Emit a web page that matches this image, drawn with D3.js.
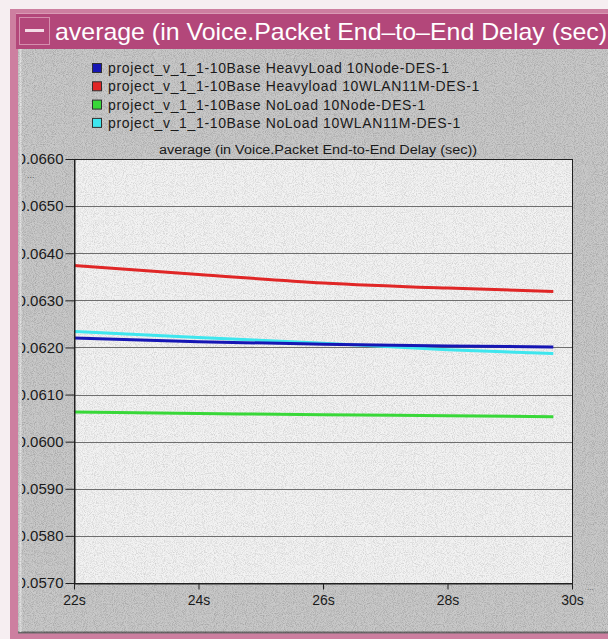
<!DOCTYPE html>
<html>
<head>
<meta charset="utf-8">
<script src="https://cdn.jsdelivr.net/npm/d3@7"></script>
<style>
  html, body { margin: 0; padding: 0; background: #f6eef1; }
  svg { display: block; }
  text { font-family: "Liberation Sans", Arial, sans-serif; }
</style>
</head>
<body>
<svg id="chart" width="608" height="639"></svg>
<script>
// ---- data ----
const windowTitle = "average (in Voice.Packet End\u2013to\u2013End Delay (sec)";
const plotTitle = "average (in Voice.Packet End-to-End Delay (sec))";
const seriesNames = [
  "project_v_1_1-10Base HeavyLoad 10Node-DES-1",
  "project_v_1_1-10Base Heavyload 10WLAN11M-DES-1",
  "project_v_1_1-10Base NoLoad 10Node-DES-1",
  "project_v_1_1-10Base NoLoad 10WLAN11M-DES-1"
];
const seriesColors = ["#1616b4", "#e02626", "#38d838", "#3ee6ee"];
const times = [22, 24, 26, 28, 29.7];
const heavyLoad10Node   = [0.06220, 0.06212, 0.06207, 0.06203, 0.06201];
const heavyLoadWlan     = [0.06374, 0.06355, 0.06337, 0.06326, 0.06319];
const noLoad10Node      = [0.06063, 0.06060, 0.06057, 0.06055, 0.06053];
const noLoadWlan        = [0.06234, 0.06221, 0.06209, 0.06195, 0.06187];
const yTickValues = [0.0570, 0.0580, 0.0590, 0.0600, 0.0610, 0.0620, 0.0630, 0.0640, 0.0650, 0.0660];
const xTickValues = [22, 24, 26, 28, 30];
const xTickLabels = ["22s", "24s", "26s", "28s", "30s"];

// cyan and blue overlap; blue is drawn last so it sits on top
const seriesValues = [heavyLoad10Node, heavyLoadWlan, noLoad10Node, noLoadWlan];
const drawOrder = [1, 2, 3, 0];

const svg = d3.select("#chart");
const W = 608, H = 639;

// ---- grain filter for the window surfaces ----
const defs = svg.append("defs");
const grain = defs.append("filter").attr("id", "grain")
  .attr("x", 0).attr("y", 0).attr("width", "100%").attr("height", "100%");
grain.append("feTurbulence").attr("type", "fractalNoise")
  .attr("baseFrequency", 1.1).attr("numOctaves", 1).attr("seed", 4).attr("result", "n");
grain.append("feColorMatrix").attr("in", "n").attr("type", "matrix")
  .attr("values", "0 0 0 0 0  0 0 0 0 0  0 0 0 0 0  -1.6 0 0 0 0.95");
defs.append("clipPath").attr("id", "bodyClip")
  .append("rect").attr("x", 22).attr("y", 50).attr("width", W - 22).attr("height", 580);

// ---- window frame ----
svg.append("rect").attr("x", 10).attr("y", 9).attr("width", W - 10).attr("height", H - 9)
  .attr("fill", "#cd7fa0");
svg.append("rect").attr("x", 16).attr("y", 13).attr("width", W - 16).attr("height", 36)
  .attr("fill", "#b3477a");
svg.append("line").attr("x1", 16).attr("x2", W).attr("y1", 13.5).attr("y2", 13.5)
  .attr("stroke", "#d99ab4");
// minimise box
svg.append("rect").attr("x", 19.5).attr("y", 17.5).attr("width", 30).attr("height", 27)
  .attr("fill", "#b3477a").attr("stroke", "#d58fae");
svg.append("rect").attr("x", 25).attr("y", 29).attr("width", 19).attr("height", 3)
  .attr("fill", "#f3dbe6");
svg.append("text").attr("x", 55).attr("y", 40)
  .attr("fill", "#ffffff").attr("font-size", 24)
  .attr("textLength", 552).attr("lengthAdjust", "spacingAndGlyphs")
  .text(windowTitle);

// window body
svg.append("rect").attr("x", 18).attr("y", 49).attr("width", W - 18).attr("height", 584)
  .attr("fill", "#c9c9c9");
svg.append("line").attr("x1", 18).attr("x2", W).attr("y1", 632.5).attr("y2", 632.5)
  .attr("stroke", "#6a6a6a").attr("stroke-width", 2);
svg.append("line").attr("x1", 20.5).attr("x2", 20.5).attr("y1", 49).attr("y2", 632)
  .attr("stroke", "#e2e2e2").attr("stroke-width", 2);
svg.append("rect").attr("x", 18).attr("y", 49).attr("width", W - 18).attr("height", 584)
  .attr("fill", "#808080").attr("filter", "url(#grain)").attr("opacity", 0.28);

// ---- scales ----
const x = d3.scaleLinear().domain([22, 30]).range([74, 572]);
const y = d3.scaleLinear().domain([0.0570, 0.0660]).range([583, 159]);

// plot area
svg.append("rect").attr("x", x(22)).attr("y", y(0.066))
  .attr("width", x(30) - x(22)).attr("height", y(0.057) - y(0.066))
  .attr("fill", "#f3f3f3");
svg.append("rect").attr("x", x(22)).attr("y", y(0.066))
  .attr("width", x(30) - x(22)).attr("height", y(0.057) - y(0.066))
  .attr("fill", "#9a9a9a").attr("filter", "url(#grain)").attr("opacity", 0.22);

// horizontal grid
svg.append("g").selectAll("line").data(yTickValues).join("line")
  .attr("x1", x(22)).attr("x2", x(30))
  .attr("y1", d => Math.round(y(d)) + 0.5).attr("y2", d => Math.round(y(d)) + 0.5)
  .attr("stroke", "#6e6e6e").attr("stroke-width", 1);

// series lines
const line = d3.line()
  .x((d, i) => x(times[i]))
  .y(d => y(d))
  .curve(d3.curveMonotoneX);
svg.append("g").selectAll("path").data(drawOrder).join("path")
  .attr("d", k => line(seriesValues[k]))
  .attr("fill", "none")
  .attr("stroke", k => seriesColors[k])
  .attr("stroke-width", 3)
  .attr("stroke-linecap", "butt");

// plot frame
svg.append("rect").attr("x", x(22) + 0.5).attr("y", y(0.066) + 0.5)
  .attr("width", x(30) - x(22)).attr("height", y(0.057) - y(0.066))
  .attr("fill", "none").attr("stroke", "#202020").attr("stroke-width", 1);

// ---- axes ----
const yAxis = d3.axisLeft(y).tickValues(yTickValues).tickFormat(d3.format(".4f"))
  .tickSizeInner(9).tickSizeOuter(0).tickPadding(2);
const gy = svg.append("g").attr("clip-path", "url(#bodyClip)")
  .append("g").attr("transform", `translate(${x(22) + 0.5},0)`)
  .call(yAxis);
gy.select(".domain").attr("stroke", "#202020");
gy.selectAll(".tick line").attr("stroke", "#202020");
gy.selectAll(".tick text").attr("fill", "#1a1a1a").attr("font-size", 15)
  .attr("font-family", "Liberation Sans, Arial, sans-serif");

const xAxis = d3.axisBottom(x).tickValues(xTickValues)
  .tickFormat((d, i) => xTickLabels[i])
  .tickSizeInner(6).tickSizeOuter(0).tickPadding(6);
const gx = svg.append("g").attr("transform", `translate(0,${y(0.057) + 0.5})`).call(xAxis);
gx.select(".domain").attr("stroke", "#202020");
gx.selectAll(".tick line").attr("stroke", "#202020");
gx.selectAll(".tick text").attr("fill", "#1a1a1a").attr("font-size", 14)
  .attr("font-family", "Liberation Sans, Arial, sans-serif");

// continuation marks
svg.append("text").attr("x", 27).attr("y", 178).attr("font-size", 9)
  .attr("fill", "#555").text("...");
svg.append("text").attr("x", 587).attr("y", 590).attr("font-size", 8)
  .attr("fill", "#555").text("...");

// plot title
svg.append("text").attr("x", (x(22) + x(30)) / 2 - 5).attr("y", 154)
  .attr("text-anchor", "middle").attr("font-size", 12).attr("fill", "#1a1a1a")
  .attr("textLength", 318).attr("lengthAdjust", "spacingAndGlyphs")
  .text(plotTitle);

// ---- legend ----
const legend = svg.append("g").attr("transform", "translate(92,68)");
const rows = legend.selectAll("g").data(seriesNames).join("g")
  .attr("transform", (d, i) => `translate(0,${i * 18.3})`);
rows.append("rect").attr("x", 0.5).attr("y", -4.5).attr("width", 9).attr("height", 9)
  .attr("fill", (d, i) => seriesColors[i]).attr("stroke", "#303030");
rows.append("text").attr("x", 16).attr("y", 5)
  .attr("font-size", 14).attr("letter-spacing", 0.65).attr("fill", "#1a1a1a")
  .text(d => d);
</script>
</body>
</html>
